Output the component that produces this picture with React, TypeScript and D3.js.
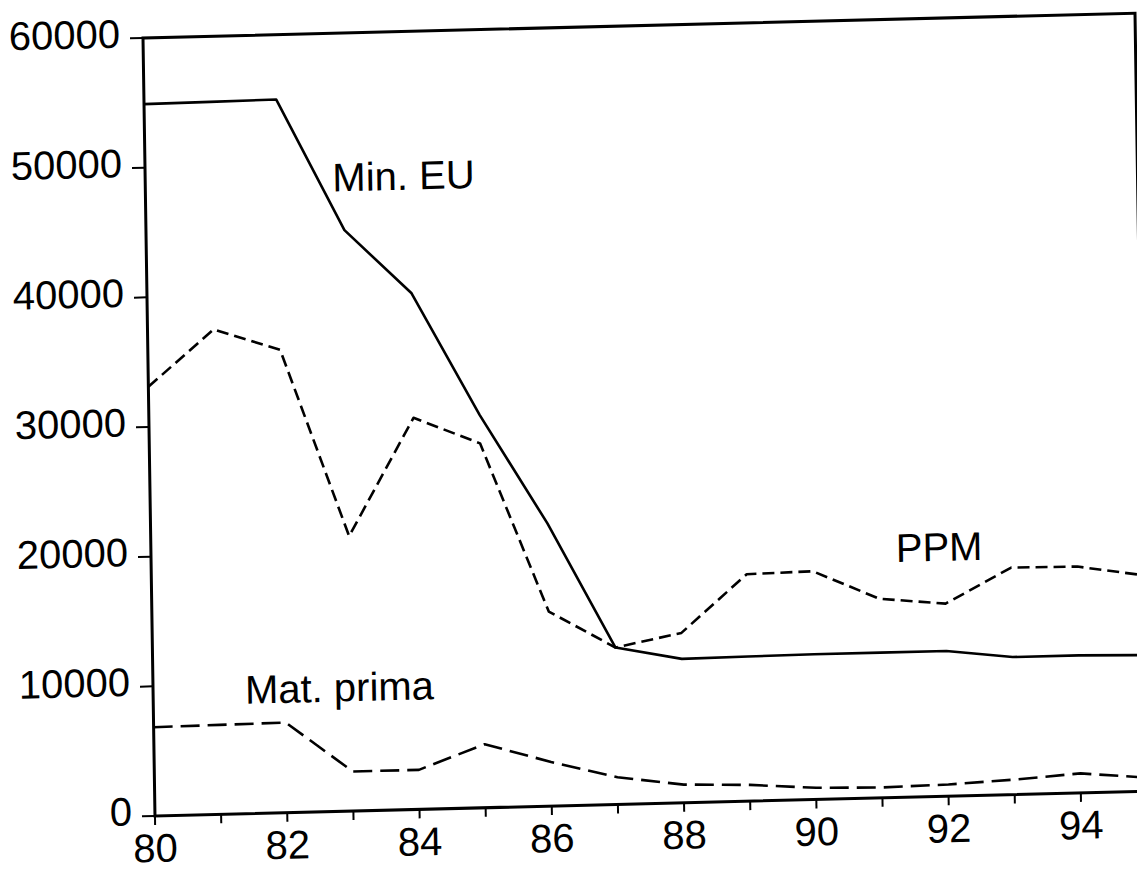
import React, { useEffect, useRef } from "react";
import * as d3 from "d3";

// annual values, 1980-1995
const years = [80, 81, 82, 83, 84, 85, 86, 87, 88, 89, 90, 91, 92, 93, 94, 95];
const minEU = [54900, 54950, 55000, 44800, 39800, 30300, 21800, 12100, 11100, 11150, 11200, 11200, 11200, 10600, 10600, 10500];
const ppm = [33100, 37400, 35700, 21200, 30200, 28100, 15000, 12100, 13100, 17500, 17600, 15350, 14850, 17500, 17450, 16650];
const matPrima = [6850, 6900, 6950, 3050, 3050, 4900, 3400, 2100, 1400, 1250, 900, 800, 900, 1150, 1500, 1050];

const yTicks = [0, 10000, 20000, 30000, 40000, 50000, 60000];
const xTicks = [80, 81, 82, 83, 84, 85, 86, 87, 88, 89, 90, 91, 92, 93, 94];
const xTickLabels = [80, 82, 84, 86, 88, 90, 92, 94];

// inline series labels, placed in data coordinates
const labelNames = ["Min. EU", "PPM", "Mat. prima"];
const labelYears = [82.83, 91.26, 81.39];
const labelValues = [47800, 18150, 8475];

export default function App() {
  const ref = useRef<SVGSVGElement>(null);

  useEffect(() => {
    const svg = d3.select(ref.current);
    svg.selectAll("*").remove();

    const width = 992,
      height = 778;
    const font = "'Liberation Sans', Arial, sans-serif";

    // the scanned page is slightly tilted, so the plot frame is too
    const g = svg
      .append("g")
      .attr("transform", "matrix(1,-0.025,0.0154,1,143,38)");

    const x = d3.scaleLinear().domain([80, 95]).range([0, width]);
    const y = d3.scaleLinear().domain([0, 60000]).range([height, 0]);

    const line = d3
      .line<number>()
      .x((_, i) => x(years[i]))
      .y((d) => y(d));

    const series = [
      { values: minEU, dash: null },
      { values: ppm, dash: "12,6" },
      { values: matPrima, dash: "19,8" },
    ];

    series.forEach((s) => {
      g.append("path")
        .datum(s.values)
        .attr("d", line)
        .attr("fill", "none")
        .attr("stroke", "#000")
        .attr("stroke-width", 2.6)
        .attr("stroke-linejoin", "round")
        .attr("stroke-dasharray", s.dash);
    });

    // frame
    g.append("rect")
      .attr("x", 0)
      .attr("y", 0)
      .attr("width", width)
      .attr("height", height)
      .attr("fill", "none")
      .attr("stroke", "#000")
      .attr("stroke-width", 3);

    // y axis ticks + labels
    g.selectAll(".ytick")
      .data(yTicks)
      .enter()
      .append("line")
      .attr("x1", -13)
      .attr("x2", 0)
      .attr("y1", (d) => y(d))
      .attr("y2", (d) => y(d))
      .attr("stroke", "#000")
      .attr("stroke-width", 2);

    g.selectAll(".ylabel")
      .data(yTicks)
      .enter()
      .append("text")
      .attr("x", -23)
      .attr("y", (d) => y(d) + 9)
      .attr("text-anchor", "end")
      .attr("font-family", font)
      .attr("font-size", 40)
      .text((d) => d3.format("d")(d));

    // x axis ticks + labels
    g.selectAll(".xtick")
      .data(xTicks)
      .enter()
      .append("line")
      .attr("x1", (d) => x(d))
      .attr("x2", (d) => x(d))
      .attr("y1", height)
      .attr("y2", height + 9)
      .attr("stroke", "#000")
      .attr("stroke-width", 2);

    g.selectAll(".xlabel")
      .data(xTickLabels)
      .enter()
      .append("text")
      .attr("x", (d) => x(d))
      .attr("y", height + 46)
      .attr("text-anchor", "middle")
      .attr("font-family", font)
      .attr("font-size", 40)
      .text((d) => d);

    // series names
    g.selectAll(".name")
      .data(labelNames)
      .enter()
      .append("text")
      .attr("x", (_, i) => x(labelYears[i]))
      .attr("y", (_, i) => y(labelValues[i]))
      .attr("font-family", font)
      .attr("font-size", 40)
      .text((d) => d);
  }, []);

  return (
    <svg
      ref={ref}
      width={1137}
      height={875}
      style={{ position: "absolute", left: 0, top: 0, background: "#fff" }}
    />
  );
}
